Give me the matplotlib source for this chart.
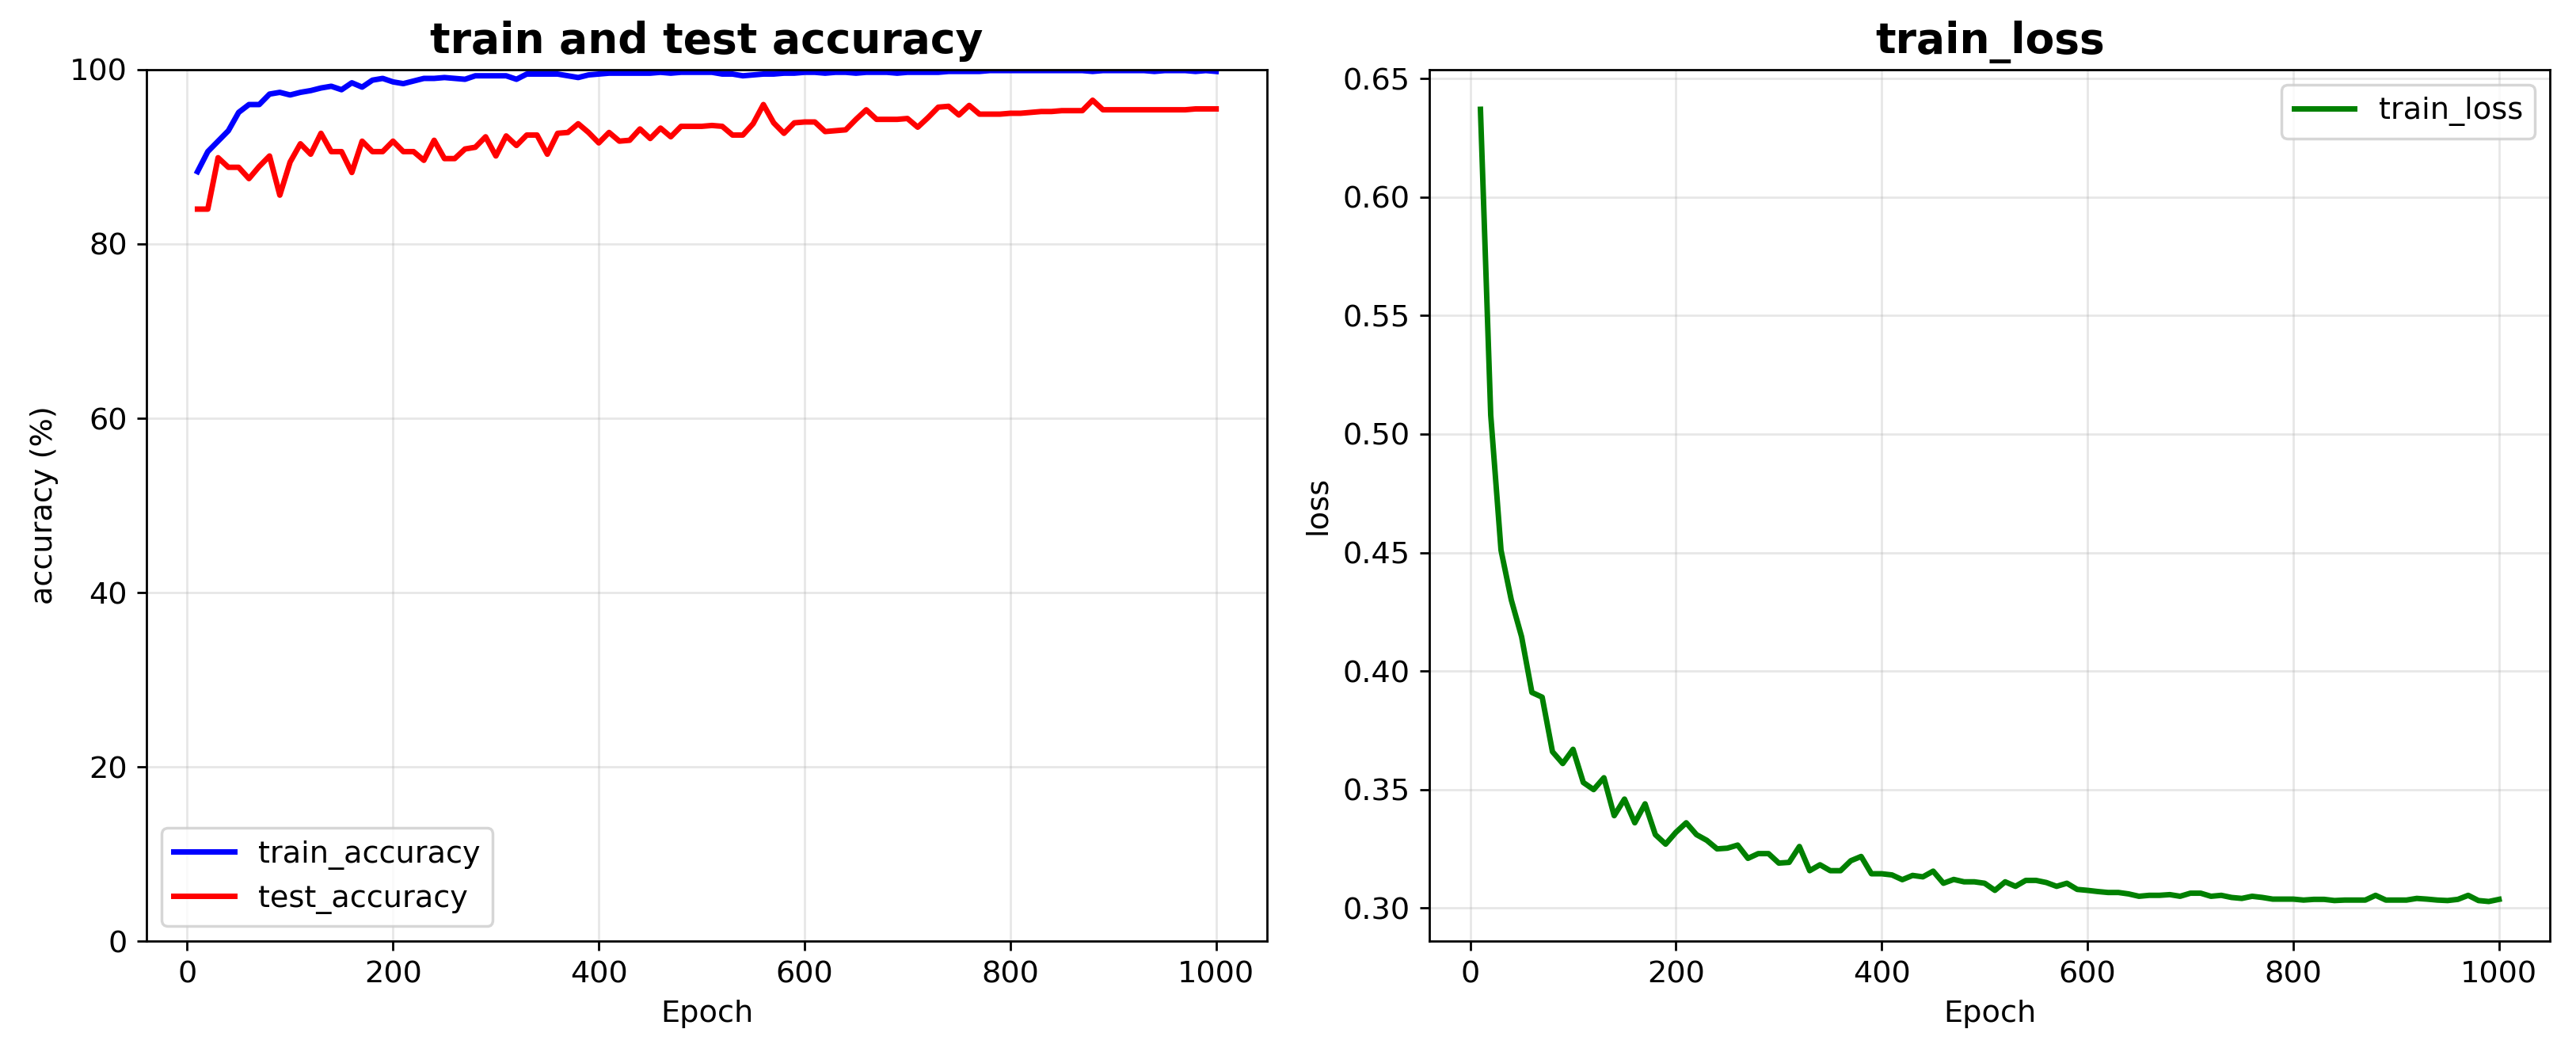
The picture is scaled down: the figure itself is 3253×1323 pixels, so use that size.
import numpy as np
import matplotlib.pyplot as plt

# values (one point every 10 epochs)
epochs = np.arange(10, 1001, 10)

train_acc = [88.3, 90.6, 91.8, 93.0, 95.1, 96.0, 96.0, 97.2, 97.4, 97.1,
             97.4, 97.6, 97.9, 98.1, 97.7, 98.5, 98.0, 98.8, 99.0, 98.6,
             98.4, 98.7, 99.0, 99.0, 99.1, 99.0, 98.9, 99.3, 99.3, 99.3,
             99.3, 98.9, 99.5, 99.5, 99.5, 99.5, 99.3, 99.1, 99.4, 99.5,
             99.6, 99.6, 99.6, 99.6, 99.6, 99.7, 99.6, 99.7, 99.7, 99.7,
             99.7, 99.5, 99.5, 99.3, 99.4, 99.5, 99.5, 99.6, 99.6, 99.7,
             99.7, 99.6, 99.7, 99.7, 99.6, 99.7, 99.7, 99.7, 99.6, 99.7,
             99.7, 99.7, 99.7, 99.8, 99.8, 99.8, 99.8, 99.9, 99.9, 99.9,
             99.9, 99.9, 99.9, 99.9, 99.9, 99.9, 99.9, 99.8, 99.9, 99.9,
             99.9, 99.9, 99.9, 99.8, 99.9, 99.9, 99.9, 99.8, 99.9, 99.8]

test_acc = [84.0, 84.0, 89.9, 88.8, 88.8, 87.5, 88.9, 90.1, 85.6, 89.4,
            91.5, 90.3, 92.7, 90.6, 90.6, 88.2, 91.8, 90.6, 90.6, 91.8,
            90.6, 90.6, 89.6, 91.9, 89.8, 89.8, 90.9, 91.1, 92.3, 90.1,
            92.4, 91.3, 92.5, 92.5, 90.3, 92.7, 92.8, 93.8, 92.8, 91.6,
            92.8, 91.8, 91.9, 93.2, 92.1, 93.3, 92.3, 93.5, 93.5, 93.5,
            93.6, 93.5, 92.5, 92.5, 93.8, 96.0, 93.9, 92.7, 93.9, 94.0,
            94.0, 92.9, 93.0, 93.1, 94.3, 95.4, 94.3, 94.3, 94.3, 94.4,
            93.4, 94.5, 95.7, 95.8, 94.8, 95.9, 94.9, 94.9, 94.9, 95.0,
            95.0, 95.1, 95.2, 95.2, 95.3, 95.3, 95.3, 96.5, 95.4, 95.4,
            95.4, 95.4, 95.4, 95.4, 95.4, 95.4, 95.4, 95.5, 95.5, 95.5]

train_loss = [0.637, 0.508, 0.451, 0.430, 0.4145, 0.391, 0.389, 0.366, 0.361, 0.367,
              0.353, 0.350, 0.355, 0.339, 0.346, 0.336, 0.344, 0.331, 0.327, 0.332,
              0.336, 0.331, 0.3286, 0.325, 0.3253, 0.3266, 0.321, 0.323, 0.323, 0.319,
              0.3193, 0.326, 0.3158, 0.3183, 0.3158, 0.3158, 0.320, 0.3218, 0.3145, 0.3145,
              0.314, 0.312, 0.3138, 0.3132, 0.3156, 0.3105, 0.3121, 0.3111, 0.3111, 0.3105,
              0.3075, 0.3111, 0.3092, 0.3117, 0.3117, 0.3108, 0.3092, 0.3105, 0.3079, 0.3075,
              0.307, 0.3066, 0.3066, 0.306, 0.305, 0.3054, 0.3054, 0.3057, 0.305, 0.3063,
              0.3063, 0.305, 0.3054, 0.3045, 0.3041, 0.305, 0.3045, 0.3038, 0.3038, 0.3038,
              0.3034, 0.3037, 0.3037, 0.3032, 0.3034, 0.3034, 0.3034, 0.3054, 0.3034, 0.3034,
              0.3034, 0.3041, 0.3038, 0.3034, 0.3032, 0.3037, 0.3054, 0.3032, 0.3028, 0.3037]

fig, (ax1, ax2) = plt.subplots(1, 2, figsize=(13.012, 5.292))
plt.subplots_adjust(left=0.0569, right=0.9899, bottom=0.102, top=0.9335, wspace=0.145)

# accuracy
ax1.plot(epochs, train_acc, color='b', linewidth=2, label='train_accuracy')
ax1.plot(epochs, test_acc, color='r', linewidth=2, label='test_accuracy')
ax1.set_ylim(0, 100)
ax1.set_title('train and test accuracy', fontsize=15.4, fontweight='bold')
ax1.set_xlabel('Epoch', fontsize=11)
ax1.set_ylabel('accuracy (%)', fontsize=11)
ax1.tick_params(labelsize=11)
ax1.grid(True, alpha=0.3)
ax1.legend(loc='lower left', fontsize=11)

# loss
ax2.plot(epochs, train_loss, color='g', linewidth=2, label='train_loss')
ax2.set_title('train_loss', fontsize=15.4, fontweight='bold')
ax2.set_xlabel('Epoch', fontsize=11)
ax2.set_ylabel('loss', fontsize=11)
ax2.tick_params(labelsize=11)
ax2.grid(True, alpha=0.3)
ax2.legend(loc='upper right', fontsize=11)

plt.savefig('out.png', dpi=250)
